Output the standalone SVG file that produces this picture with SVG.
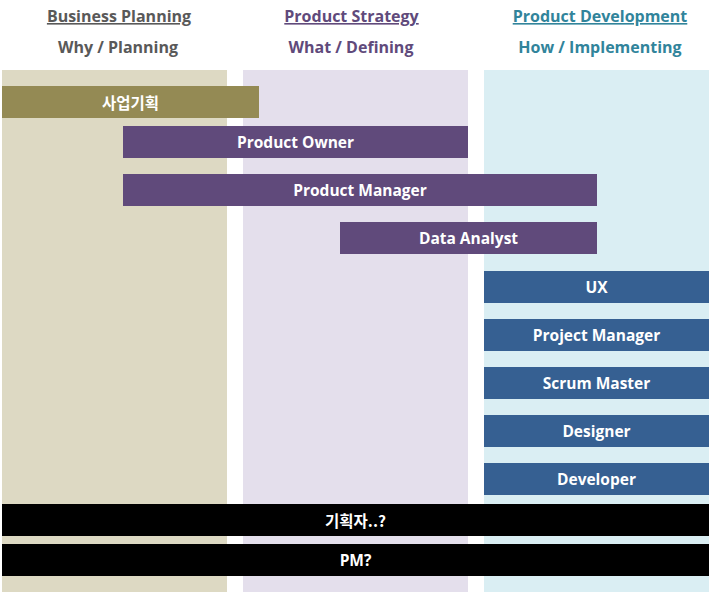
<svg xmlns="http://www.w3.org/2000/svg" width="712" height="595" viewBox="0 0 712 595">
<style>
.h{font-family:"Open Sans","Noto Sans","Noto Sans CJK KR",sans-serif;font-weight:bold;font-size:16px;text-anchor:middle}
.t{font-family:"Open Sans","Noto Sans","Noto Sans CJK KR",sans-serif;font-weight:bold;font-size:15.5px;fill:#fff;text-anchor:middle;dominant-baseline:central}
.k{font-family:"Noto Sans CJK KR","Open Sans",sans-serif;font-weight:bold;font-size:15.5px;fill:#fff;text-anchor:middle;dominant-baseline:central}
.pu{fill:#604A7B}.bl{fill:#366092}.bk{fill:#000}
</style>
<rect width="712" height="595" fill="#fff"/>
<g id="columns">
<rect x="2" y="70" width="225" height="522" fill="#DDD9C3"/>
<rect x="243" y="70" width="225" height="522" fill="#E4DFEC"/>
<rect x="484" y="70" width="225" height="522" fill="#DAEEF3"/>
</g>
<g id="headers">
<text class="h" x="119" y="22" fill="#595959" text-decoration="underline">Business Planning</text>
<text class="h" x="118" y="53" fill="#595959">Why / Planning</text>
<text class="h" x="351.5" y="22" fill="#604A7B" text-decoration="underline">Product Strategy</text>
<text class="h" x="351" y="53" fill="#604A7B">What / Defining</text>
<text class="h" x="600" y="22" fill="#31849B" text-decoration="underline">Product Development</text>
<text class="h" x="600" y="53" fill="#31849B">How / Implementing</text>
</g>
<g id="n-business"><rect x="2" y="86" width="257" height="32" fill="#948A54"/><text class="k" x="130.5" y="102">사업기획</text></g>
<g id="n-po"><rect class="pu" x="123" y="126" width="345" height="32"/><text class="t" x="295.5" y="142">Product Owner</text></g>
<g id="n-pm"><rect class="pu" x="123" y="174" width="474" height="32"/><text class="t" x="360" y="190">Product Manager</text></g>
<g id="n-da"><rect class="pu" x="340" y="222" width="257" height="32"/><text class="t" x="468.5" y="238">Data Analyst</text></g>
<g id="n-ux"><rect class="bl" x="484" y="271" width="225" height="32"/><text class="t" x="596.5" y="287">UX</text></g>
<g id="n-projm"><rect class="bl" x="484" y="319" width="225" height="32"/><text class="t" x="596.5" y="335">Project Manager</text></g>
<g id="n-sm"><rect class="bl" x="484" y="367" width="225" height="32"/><text class="t" x="596.5" y="383">Scrum Master</text></g>
<g id="n-designer"><rect class="bl" x="484" y="415" width="225" height="32"/><text class="t" x="596.5" y="431">Designer</text></g>
<g id="n-developer"><rect class="bl" x="484" y="463" width="225" height="32"/><text class="t" x="596.5" y="479">Developer</text></g>
<g id="n-planner"><rect class="bk" x="2" y="504" width="707" height="32"/><text class="k" x="355.5" y="520">기획자..?</text></g>
<g id="n-pmq"><rect class="bk" x="2" y="544" width="707" height="32"/><text class="t" x="355.5" y="560">PM?</text></g>
<g id="connectors"></g>
</svg>
